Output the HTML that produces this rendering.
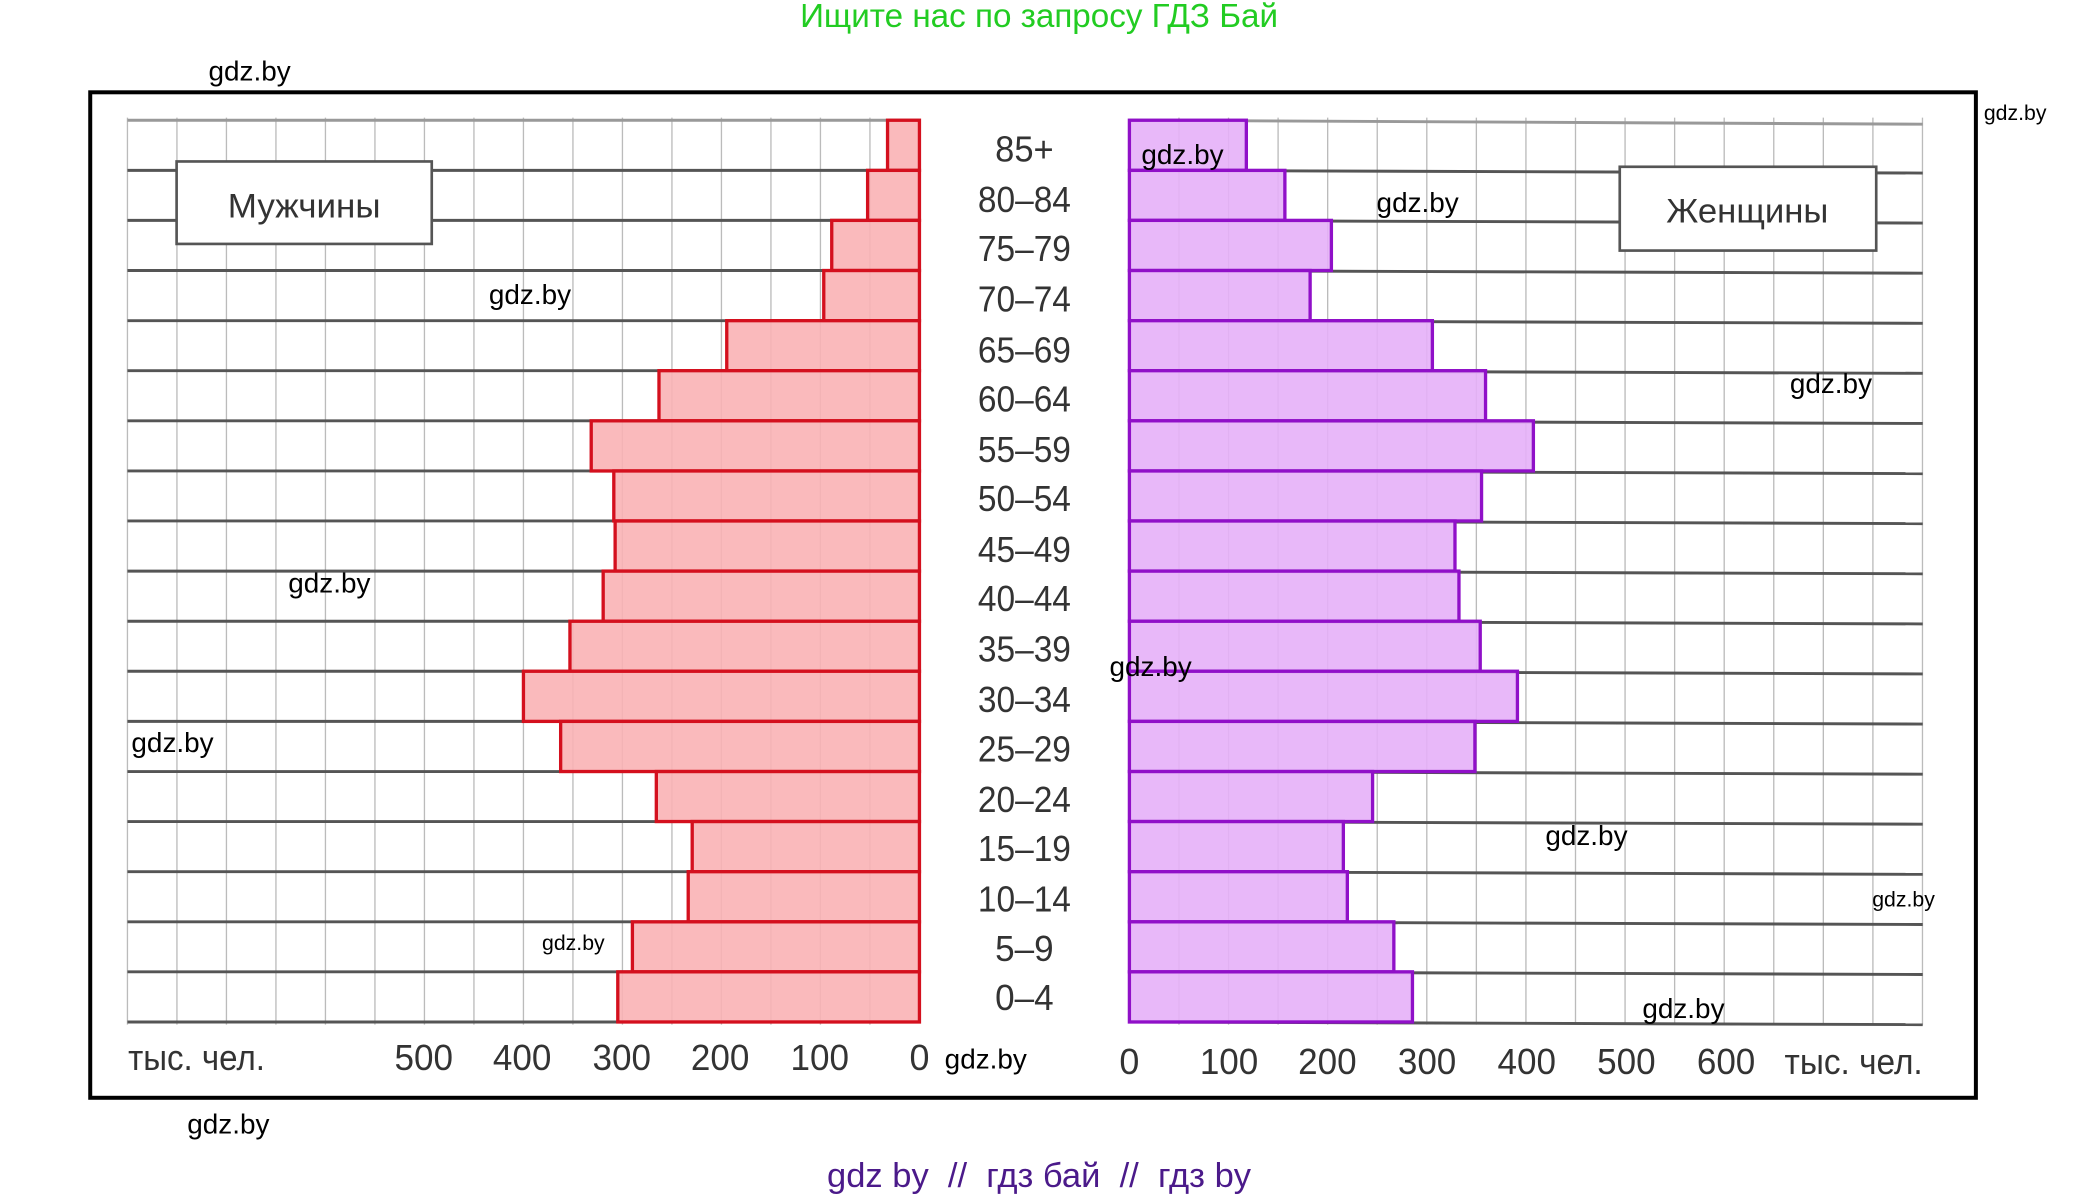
<!DOCTYPE html>
<html><head><meta charset="utf-8"><style>
html,body{margin:0;padding:0;background:#fff;}
svg{display:block;}
</style></head><body>
<svg width="2081" height="1199" viewBox="1.1 1.6 1566 901.5" preserveAspectRatio="none" xmlns="http://www.w3.org/2000/svg" font-family="Liberation Sans, sans-serif">
<rect x="0" y="0" width="1570" height="905" fill="#fff"/>
<text x="783" y="22" font-size="25" fill="#22cc22" text-anchor="middle">Ищите нас по запросу ГДЗ Бай</text>
<rect x="69" y="71" width="1419" height="756" fill="none" stroke="#000" stroke-width="3"/>
<g stroke="#bbb" stroke-width="1">
<line x1="97" y1="90" x2="97" y2="772"/><line x1="134.25" y1="90" x2="134.25" y2="772"/><line x1="171.5" y1="90" x2="171.5" y2="772"/><line x1="208.75" y1="90" x2="208.75" y2="772"/><line x1="246" y1="90" x2="246" y2="772"/><line x1="283.25" y1="90" x2="283.25" y2="772"/><line x1="320.5" y1="90" x2="320.5" y2="772"/><line x1="357.75" y1="90" x2="357.75" y2="772"/><line x1="395" y1="90" x2="395" y2="772"/><line x1="432.25" y1="90" x2="432.25" y2="772"/><line x1="469.5" y1="90" x2="469.5" y2="772"/><line x1="506.75" y1="90" x2="506.75" y2="772"/><line x1="544" y1="90" x2="544" y2="772"/><line x1="581.25" y1="90" x2="581.25" y2="772"/><line x1="618.5" y1="90" x2="618.5" y2="772"/><line x1="655.75" y1="90" x2="655.75" y2="772"/>
<line x1="888.3" y1="90" x2="888.3" y2="772"/><line x1="925.6" y1="90" x2="925.6" y2="772"/><line x1="962.9" y1="90" x2="962.9" y2="772"/><line x1="1000.2" y1="90" x2="1000.2" y2="772"/><line x1="1037.5" y1="90" x2="1037.5" y2="772"/><line x1="1074.8" y1="90" x2="1074.8" y2="772"/><line x1="1112.1" y1="90" x2="1112.1" y2="772"/><line x1="1149.4" y1="90" x2="1149.4" y2="772"/><line x1="1186.7" y1="90" x2="1186.7" y2="772"/><line x1="1224" y1="90" x2="1224" y2="772"/><line x1="1261.3" y1="90" x2="1261.3" y2="772"/><line x1="1298.6" y1="90" x2="1298.6" y2="772"/><line x1="1335.9" y1="90" x2="1335.9" y2="772"/><line x1="1373.2" y1="90" x2="1373.2" y2="772"/><line x1="1410.5" y1="90" x2="1410.5" y2="772"/><line x1="1447.8" y1="90" x2="1447.8" y2="772"/>
</g>
<g stroke="#555" stroke-width="2.2">
<line x1="97" y1="92" x2="693" y2="92" stroke="#999"/><line x1="851" y1="92" x2="1448" y2="95" stroke="#999"/>
<line x1="97" y1="129.7" x2="693" y2="129.7"/><line x1="97" y1="167.3" x2="693" y2="167.3"/><line x1="97" y1="205" x2="693" y2="205"/><line x1="97" y1="242.7" x2="693" y2="242.7"/><line x1="97" y1="280.3" x2="693" y2="280.3"/><line x1="97" y1="318" x2="693" y2="318"/><line x1="97" y1="355.7" x2="693" y2="355.7"/><line x1="97" y1="393.3" x2="693" y2="393.3"/><line x1="97" y1="431" x2="693" y2="431"/><line x1="97" y1="468.7" x2="693" y2="468.7"/><line x1="97" y1="506.3" x2="693" y2="506.3"/><line x1="97" y1="544" x2="693" y2="544"/><line x1="97" y1="581.7" x2="693" y2="581.7"/><line x1="97" y1="619.3" x2="693" y2="619.3"/><line x1="97" y1="657" x2="693" y2="657"/><line x1="97" y1="694.7" x2="693" y2="694.7"/><line x1="97" y1="732.3" x2="693" y2="732.3"/><line x1="97" y1="770" x2="693" y2="770"/>
<line x1="851" y1="129.7" x2="1448" y2="131.7"/><line x1="851" y1="167.3" x2="1448" y2="169.3"/><line x1="851" y1="205" x2="1448" y2="207"/><line x1="851" y1="242.7" x2="1448" y2="244.7"/><line x1="851" y1="280.3" x2="1448" y2="282.3"/><line x1="851" y1="318" x2="1448" y2="320"/><line x1="851" y1="355.7" x2="1448" y2="357.7"/><line x1="851" y1="393.3" x2="1448" y2="395.3"/><line x1="851" y1="431" x2="1448" y2="433"/><line x1="851" y1="468.7" x2="1448" y2="470.7"/><line x1="851" y1="506.3" x2="1448" y2="508.3"/><line x1="851" y1="544" x2="1448" y2="546"/><line x1="851" y1="581.7" x2="1448" y2="583.7"/><line x1="851" y1="619.3" x2="1448" y2="621.3"/><line x1="851" y1="657" x2="1448" y2="659"/><line x1="851" y1="694.7" x2="1448" y2="696.7"/><line x1="851" y1="732.3" x2="1448" y2="734.3"/><line x1="851" y1="770" x2="1448" y2="772"/>
</g>
<g fill="#f9b3b5" fill-opacity="0.9" stroke="#d4101e" stroke-width="2.5">
<rect x="669" y="92" width="24" height="37.7"/>
<rect x="654" y="129.7" width="39" height="37.6"/>
<rect x="627" y="167.3" width="66" height="37.7"/>
<rect x="621" y="205" width="72" height="37.7"/>
<rect x="548" y="242.7" width="145" height="37.6"/>
<rect x="497" y="280.3" width="196" height="37.7"/>
<rect x="446" y="318" width="247" height="37.7"/>
<rect x="463" y="355.7" width="230" height="37.6"/>
<rect x="464" y="393.3" width="229" height="37.7"/>
<rect x="455" y="431" width="238" height="37.7"/>
<rect x="430" y="468.7" width="263" height="37.6"/>
<rect x="395" y="506.3" width="298" height="37.7"/>
<rect x="423" y="544" width="270" height="37.7"/>
<rect x="495" y="581.7" width="198" height="37.6"/>
<rect x="522" y="619.3" width="171" height="37.7"/>
<rect x="519" y="657" width="174" height="37.7"/>
<rect x="477" y="694.7" width="216" height="37.6"/>
<rect x="466" y="732.3" width="227" height="37.7"/>
</g>
<g fill="#e5b0f8" fill-opacity="0.9" stroke="#9010c8" stroke-width="2.5">
<rect x="851" y="92" width="88" height="37.7"/>
<rect x="851" y="129.7" width="117" height="37.6"/>
<rect x="851" y="167.3" width="152" height="37.7"/>
<rect x="851" y="205" width="136" height="37.7"/>
<rect x="851" y="242.7" width="228" height="37.6"/>
<rect x="851" y="280.3" width="268" height="37.7"/>
<rect x="851" y="318" width="304" height="37.7"/>
<rect x="851" y="355.7" width="265" height="37.6"/>
<rect x="851" y="393.3" width="245" height="37.7"/>
<rect x="851" y="431" width="248" height="37.7"/>
<rect x="851" y="468.7" width="264" height="37.6"/>
<rect x="851" y="506.3" width="292" height="37.7"/>
<rect x="851" y="544" width="260" height="37.7"/>
<rect x="851" y="581.7" width="183" height="37.6"/>
<rect x="851" y="619.3" width="161" height="37.7"/>
<rect x="851" y="657" width="164" height="37.7"/>
<rect x="851" y="694.7" width="199" height="37.6"/>
<rect x="851" y="732.3" width="213" height="37.7"/>
</g>
<rect x="134" y="123" width="192" height="62" fill="#fff" stroke="#555" stroke-width="2"/>
<text x="230" y="165" font-size="26" fill="#333" text-anchor="middle" textLength="115" lengthAdjust="spacingAndGlyphs">Мужчины</text>
<rect x="1220" y="127" width="193" height="63" fill="#fff" stroke="#555" stroke-width="2"/>
<text x="1316" y="169" font-size="26" fill="#333" text-anchor="middle" textLength="122" lengthAdjust="spacingAndGlyphs">Женщины</text>
<g font-size="27" fill="#333" text-anchor="middle">
<text x="772" y="123" textLength="44" lengthAdjust="spacingAndGlyphs">85+</text>
<text x="772" y="161" textLength="70" lengthAdjust="spacingAndGlyphs">80–84</text>
<text x="772" y="198" textLength="70" lengthAdjust="spacingAndGlyphs">75–79</text>
<text x="772" y="236" textLength="70" lengthAdjust="spacingAndGlyphs">70–74</text>
<text x="772" y="274" textLength="70" lengthAdjust="spacingAndGlyphs">65–69</text>
<text x="772" y="311" textLength="70" lengthAdjust="spacingAndGlyphs">60–64</text>
<text x="772" y="349" textLength="70" lengthAdjust="spacingAndGlyphs">55–59</text>
<text x="772" y="386" textLength="70" lengthAdjust="spacingAndGlyphs">50–54</text>
<text x="772" y="424" textLength="70" lengthAdjust="spacingAndGlyphs">45–49</text>
<text x="772" y="461" textLength="70" lengthAdjust="spacingAndGlyphs">40–44</text>
<text x="772" y="499" textLength="70" lengthAdjust="spacingAndGlyphs">35–39</text>
<text x="772" y="537" textLength="70" lengthAdjust="spacingAndGlyphs">30–34</text>
<text x="772" y="574" textLength="70" lengthAdjust="spacingAndGlyphs">25–29</text>
<text x="772" y="612" textLength="70" lengthAdjust="spacingAndGlyphs">20–24</text>
<text x="772" y="649" textLength="70" lengthAdjust="spacingAndGlyphs">15–19</text>
<text x="772" y="687" textLength="70" lengthAdjust="spacingAndGlyphs">10–14</text>
<text x="772" y="724" textLength="44" lengthAdjust="spacingAndGlyphs">5–9</text>
<text x="772" y="761" textLength="44" lengthAdjust="spacingAndGlyphs">0–4</text>
</g>
<g font-size="27" fill="#333" text-anchor="middle">
<text x="149" y="806" textLength="103" lengthAdjust="spacingAndGlyphs">тыс. чел.</text>
<text x="320" y="806" textLength="44" lengthAdjust="spacingAndGlyphs">500</text>
<text x="394" y="806" textLength="44" lengthAdjust="spacingAndGlyphs">400</text>
<text x="469" y="806" textLength="44" lengthAdjust="spacingAndGlyphs">300</text>
<text x="543" y="806" textLength="44" lengthAdjust="spacingAndGlyphs">200</text>
<text x="618" y="806" textLength="44" lengthAdjust="spacingAndGlyphs">100</text>
<text x="693" y="806">0</text>
<text x="851" y="809">0</text>
<text x="926" y="809" textLength="44" lengthAdjust="spacingAndGlyphs">100</text>
<text x="1000" y="809" textLength="44" lengthAdjust="spacingAndGlyphs">200</text>
<text x="1075" y="809" textLength="44" lengthAdjust="spacingAndGlyphs">300</text>
<text x="1150" y="809" textLength="44" lengthAdjust="spacingAndGlyphs">400</text>
<text x="1225" y="809" textLength="44" lengthAdjust="spacingAndGlyphs">500</text>
<text x="1300" y="809" textLength="44" lengthAdjust="spacingAndGlyphs">600</text>
<text x="1396" y="809" textLength="104" lengthAdjust="spacingAndGlyphs">тыс. чел.</text>
</g>
<g font-size="21" fill="#000">
<text x="158" y="62">gdz.by</text>
<text x="369" y="230">gdz.by</text>
<text x="860" y="125">gdz.by</text>
<text x="1037" y="161">gdz.by</text>
<text x="1348" y="297">gdz.by</text>
<text x="218" y="447">gdz.by</text>
<text x="836" y="510">gdz.by</text>
<text x="100" y="567">gdz.by</text>
<text x="1164" y="637">gdz.by</text>
<text x="1237" y="767">gdz.by</text>
<text x="712" y="805">gdz.by</text>
<text x="142" y="854">gdz.by</text>
</g>
<g font-size="16" fill="#000">
<text x="1494" y="92">gdz.by</text>
<text x="1410" y="683">gdz.by</text>
<text x="409" y="716">gdz.by</text>
</g>
<text x="783" y="894" font-size="26" fill="#4b1a8a" text-anchor="middle" xml:space="preserve">gdz by  //  гдз бай  //  гдз by</text>
</svg>
</body></html>
